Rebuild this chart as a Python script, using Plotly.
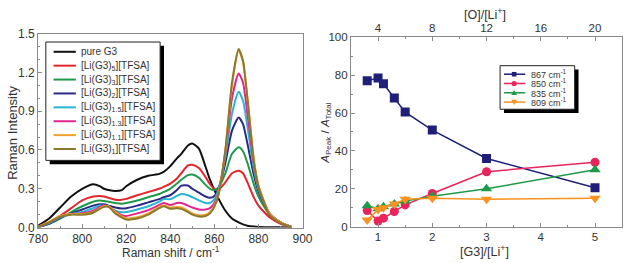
import plotly.graph_objects as go

W, H = 636, 263

# ---------------- data: Raman spectra (left) ----------------
shift = [780, 785, 790, 795, 800, 805, 808, 810, 812, 815, 818, 820, 825, 830, 835, 837, 840,
         843, 845, 848, 850, 853, 856, 858, 860, 862, 865, 868, 871, 873, 875, 878, 880, 885, 890, 895]
pure_g3 = [0.015, 0.07, 0.155, 0.24, 0.30, 0.335, 0.32, 0.30, 0.29, 0.283, 0.29, 0.32, 0.37, 0.40, 0.415, 0.43, 0.475,
           0.535, 0.57, 0.635, 0.65, 0.61, 0.47, 0.37, 0.29, 0.22, 0.13, 0.07, 0.04, 0.025, 0.015, 0.008, 0.005, 0.003, 0.002, 0.001]
li_g3_5 = [0.01, 0.04, 0.09, 0.15, 0.21, 0.24, 0.245, 0.24, 0.23, 0.215, 0.215, 0.222, 0.25, 0.275, 0.30, 0.315, 0.34,
           0.38, 0.42, 0.48, 0.485, 0.46, 0.39, 0.335, 0.30, 0.295, 0.35, 0.42, 0.44, 0.42, 0.35, 0.23, 0.17, 0.08, 0.03, 0.005]
li_g3_3 = [0.005, 0.03, 0.07, 0.12, 0.165, 0.20, 0.21, 0.205, 0.20, 0.19, 0.185, 0.19, 0.21, 0.235, 0.26, 0.275, 0.30,
           0.34, 0.37, 0.405, 0.41, 0.385, 0.33, 0.30, 0.29, 0.31, 0.42, 0.57, 0.62, 0.59, 0.50, 0.33, 0.24, 0.10, 0.04, 0.005]
li_g3_2 = [0.005, 0.03, 0.075, 0.11, 0.14, 0.17, 0.18, 0.18, 0.17, 0.155, 0.148, 0.15, 0.17, 0.195, 0.22, 0.235, 0.25,
           0.29, 0.325, 0.325, 0.30, 0.27, 0.24, 0.23, 0.245, 0.31, 0.50, 0.75, 0.85, 0.80, 0.65, 0.40, 0.28, 0.11, 0.04, 0.005]
li_g3_15 = [0.005, 0.035, 0.08, 0.105, 0.12, 0.15, 0.17, 0.17, 0.16, 0.13, 0.118, 0.12, 0.14, 0.165, 0.20, 0.22, 0.22,
            0.245, 0.26, 0.25, 0.235, 0.21, 0.19, 0.19, 0.22, 0.30, 0.55, 0.88, 1.05, 0.98, 0.78, 0.45, 0.30, 0.11, 0.04, 0.005]
li_g3_13 = [0.005, 0.04, 0.085, 0.105, 0.11, 0.13, 0.16, 0.17, 0.165, 0.125, 0.095, 0.09, 0.11, 0.135, 0.175, 0.19, 0.175,
            0.19, 0.19, 0.17, 0.155, 0.14, 0.14, 0.15, 0.19, 0.28, 0.58, 1.00, 1.19, 1.12, 0.88, 0.49, 0.32, 0.11, 0.04, 0.005]
li_g3_11 = [0.005, 0.045, 0.09, 0.105, 0.105, 0.12, 0.15, 0.165, 0.165, 0.12, 0.085, 0.072, 0.08, 0.11, 0.16, 0.17, 0.155,
            0.16, 0.155, 0.13, 0.11, 0.095, 0.10, 0.12, 0.17, 0.27, 0.60, 1.10, 1.37, 1.28, 1.00, 0.52, 0.33, 0.11, 0.04, 0.005]
li_g3_1 = [0.005, 0.04, 0.085, 0.10, 0.10, 0.115, 0.145, 0.16, 0.16, 0.11, 0.078, 0.063, 0.07, 0.10, 0.15, 0.165, 0.145,
           0.15, 0.145, 0.12, 0.10, 0.085, 0.09, 0.11, 0.16, 0.26, 0.60, 1.12, 1.38, 1.29, 1.00, 0.50, 0.32, 0.10, 0.035, 0.005]

spec_names = ["pure G3", "[Li(G3)<sub>5</sub>][TFSA]", "[Li(G3)<sub>3</sub>][TFSA]", "[Li(G3)<sub>2</sub>][TFSA]",
              "[Li(G3)<sub>1.5</sub>][TFSA]", "[Li(G3)<sub>1.3</sub>][TFSA]", "[Li(G3)<sub>1.1</sub>][TFSA]",
              "[Li(G3)<sub>1</sub>][TFSA]"]
spec_data = [pure_g3, li_g3_5, li_g3_3, li_g3_2, li_g3_15, li_g3_13, li_g3_11, li_g3_1]
spec_colors = ["#111111", "#e3262b", "#1f9a4c", "#2b2a86", "#27b6d3", "#e2268c", "#f2a12a", "#8c7a2c"]

# ---------------- data: area fractions (right) ----------------
g3_li = [0.8, 1.0, 1.1, 1.3, 1.5, 2.0, 3.0, 5.0]
a867 = [77, 78.5, 75.5, 68, 60.5, 51, 36, 20.5]
a850 = [8.5, 3, 4.5, 8, 11.5, 17.5, 29, 34]
a835 = [11, 9.5, 10.5, 12, 13.5, 16, 20, 30]
a809 = [3.5, 9, 10, 12, 14.5, 15, 14.5, 15]
o_li = [4 * v for v in g3_li]
peak_names = ["867 cm<sup>-1</sup>", "850 cm<sup>-1</sup>", "835 cm<sup>-1</sup>", "809 cm<sup>-1</sup>"]
peak_data = [a867, a850, a835, a809]
peak_colors = ["#1f1f7a", "#e8245a", "#1f9a48", "#f7931e"]
peak_symbols = ["square", "circle", "triangle-up", "triangle-down"]
peak_sizes = [9, 9, 10, 10]

FONT = "Liberation Sans, Arial, sans-serif"
TXT = "#333333"
FRAME = "#8a8a8a"


def px(x):
    return x / W


def py(y):
    return 1 - y / H


fig = go.Figure()

for name, ys, c in zip(spec_names, spec_data, spec_colors):
    fig.add_trace(go.Scatter(x=shift, y=ys, mode="lines", name=name,
                             line=dict(color=c, width=2, shape="spline", smoothing=0.6),
                             xaxis="x", yaxis="y", showlegend=False))

for name, ys, c, s, sz in zip(peak_names, peak_data, peak_colors, peak_symbols, peak_sizes):
    fig.add_trace(go.Scatter(x=g3_li, y=ys, mode="lines+markers", name=name,
                             line=dict(color=c, width=1.5),
                             marker=dict(symbol=s, size=sz, color=c),
                             xaxis="x2", yaxis="y2", showlegend=False))

# invisible trace to carry the top [O]/[Li+] axis
fig.add_trace(go.Scatter(x=o_li, y=a867, mode="markers", marker=dict(opacity=0),
                         xaxis="x3", yaxis="y2", showlegend=False, hoverinfo="skip"))

axis_common = dict(showline=True, linecolor=FRAME, linewidth=1, mirror=True, ticks="inside",
                   ticklen=4, tickcolor=FRAME, showgrid=False, zeroline=False,
                   tickfont=dict(family=FONT, size=12, color=TXT))
small_font = dict(family=FONT, size=11.5, color=TXT)

fig.update_layout(
    width=W, height=H, margin=dict(l=0, r=0, t=0, b=0),
    paper_bgcolor="white", plot_bgcolor="white", showlegend=False,
    xaxis=dict(domain=[px(29), px(302)], range=[780, 900], dtick=20, anchor="y",
               minor=dict(dtick=10, ticks="inside", ticklen=2, tickcolor=FRAME), **axis_common),
    yaxis=dict(domain=[py(233), py(28)], range=[0, 1.5], dtick=0.3, tickformat=".1f", anchor="x",
               minor=dict(dtick=0.1, ticks="inside", ticklen=2, tickcolor=FRAME), **axis_common),
    xaxis2=dict(domain=[px(352), px(632)], range=[0.5, 5.5], tickvals=[1, 2, 3, 4, 5], anchor="y2",
                minor=dict(dtick=0.5, ticks="inside", ticklen=2, tickcolor=FRAME),
                **{**axis_common, "mirror": False, "tickfont": small_font}),
    xaxis3=dict(overlaying="x2", side="top", range=[2, 22], tickvals=[4, 8, 12, 16, 20], anchor="y2",
                minor=dict(dtick=2, ticks="inside", ticklen=2, tickcolor=FRAME),
                **{**axis_common, "mirror": False, "tickfont": small_font}),
    yaxis2=dict(domain=[py(232), py(32)], range=[0, 100], dtick=20, anchor="x2",
                minor=dict(dtick=10, ticks="inside", ticklen=2, tickcolor=FRAME),
                **{**axis_common, "tickfont": small_font}),
)

shapes = []
annotations = []

# ---- left legend (drawn manually) ----
lx0, ly0, lx1, ly1 = 37, 37, 155, 162
shapes.append(dict(type="rect", xref="paper", yref="paper", x0=px(lx0 + 4), x1=px(lx1 + 4),
                   y0=py(ly1 + 4), y1=py(ly0 + 4), fillcolor="black", line=dict(width=0), layer="above"))
shapes.append(dict(type="rect", xref="paper", yref="paper", x0=px(lx0), x1=px(lx1),
                   y0=py(ly1), y1=py(ly0), fillcolor="white", line=dict(color="#222", width=1), layer="above"))
for i, (name, c) in enumerate(zip(spec_names, spec_colors)):
    yy = 47.3 + i * 14.67
    shapes.append(dict(type="line", xref="paper", yref="paper", x0=px(45), x1=px(68), y0=py(yy), y1=py(yy),
                       line=dict(color=c, width=2), layer="above"))
    annotations.append(dict(text=name, x=px(71), y=py(yy), xref="paper", yref="paper", xanchor="left",
                            yanchor="middle", showarrow=False, font=dict(family=FONT, size=10, color=TXT)))

# ---- right legend (drawn manually) ----
rx0, ry0, rx1, ry1 = 506, 62, 583, 108
shapes.append(dict(type="rect", xref="paper", yref="paper", x0=px(rx0 + 4), x1=px(rx1 + 4),
                   y0=py(ry1 + 4), y1=py(ry0 + 4), fillcolor="black", line=dict(width=0), layer="above"))
shapes.append(dict(type="rect", xref="paper", yref="paper", x0=px(rx0), x1=px(rx1),
                   y0=py(ry1), y1=py(ry0), fillcolor="white", line=dict(color="#222", width=1), layer="above"))
for i, (name, c, s) in enumerate(zip(peak_names, peak_colors, peak_symbols)):
    yy = 71 + i * 9.8
    cx = 520.5
    shapes.append(dict(type="line", xref="paper", yref="paper", x0=px(510), x1=px(532), y0=py(yy), y1=py(yy),
                       line=dict(color=c, width=1.5), layer="above"))
    r = 2.4
    if s == "square":
        shapes.append(dict(type="rect", xref="paper", yref="paper", x0=px(cx - r), x1=px(cx + r),
                           y0=py(yy + r), y1=py(yy - r), fillcolor=c, line=dict(width=0), layer="above"))
    elif s == "circle":
        shapes.append(dict(type="circle", xref="paper", yref="paper", x0=px(cx - r - 0.3), x1=px(cx + r + 0.3),
                           y0=py(yy + r + 0.3), y1=py(yy - r - 0.3), fillcolor=c, line=dict(width=0), layer="above"))
    else:
        t = 3.0
        if s == "triangle-up":
            pts = [(cx - t, yy + t * 0.8), (cx + t, yy + t * 0.8), (cx, yy - t)]
        else:
            pts = [(cx - t, yy - t * 0.8), (cx + t, yy - t * 0.8), (cx, yy + t)]
        path = "M " + " L ".join(f"{px(a):.5f},{py(b):.5f}" for a, b in pts) + " Z"
        shapes.append(dict(type="path", xref="paper", yref="paper", path=path, fillcolor=c,
                           line=dict(width=0), layer="above"))
    annotations.append(dict(text=name, x=px(536), y=py(yy), xref="paper", yref="paper", xanchor="left",
                            yanchor="middle", showarrow=False, font=dict(family=FONT, size=9, color=TXT)))

# ---- axis titles ----
annotations += [
    dict(text="Raman Intensity", x=px(3), y=py(133), xref="paper", yref="paper", textangle=-90,
         showarrow=False, xanchor="center", yanchor="middle", font=dict(family=FONT, size=13, color=TXT)),
    dict(text="Raman shift / cm<sup>-1</sup>", x=px(166), y=py(258.5), xref="paper", yref="paper",
         showarrow=False, xanchor="center", yanchor="middle", font=dict(family=FONT, size=12, color=TXT)),
    dict(text="<i>A</i><sub>Peak</sub> / <i>A</i><sub>Total</sub>", x=px(326), y=py(133), xref="paper",
         yref="paper", textangle=-90, showarrow=False, xanchor="center", yanchor="middle",
         font=dict(family=FONT, size=11.5, color=TXT)),
    dict(text="[G3]/[Li<sup>+</sup>]", x=px(490), y=py(257.5), xref="paper", yref="paper",
         showarrow=False, xanchor="center", yanchor="middle", font=dict(family=FONT, size=12.5, color=TXT)),
    dict(text="[O]/[Li<sup>+</sup>]", x=px(490), y=py(7), xref="paper", yref="paper",
         showarrow=False, xanchor="center", yanchor="middle", font=dict(family=FONT, size=12.5, color=TXT)),
]

fig.update_layout(shapes=shapes, annotations=annotations)
fig.write_html("out.html")
